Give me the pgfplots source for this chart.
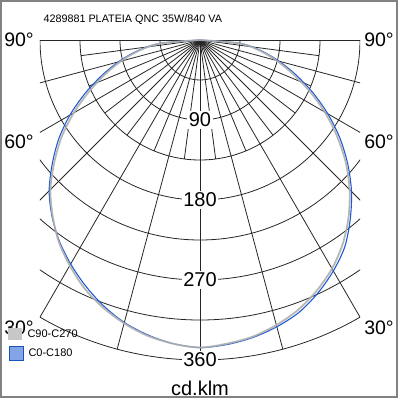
\documentclass[border=0pt]{standalone}
\usepackage{pgfplots}
\usepackage{pgfplotstable}
\pgfplotsset{compat=1.18}
\usepackage{fontspec}
\setmainfont{Liberation Sans}
\definecolor{cblue}{RGB}{30,90,210}
\definecolor{cgray}{RGB}{175,175,175}
\definecolor{frame}{RGB}{130,130,130}

% angle (deg from nadir, negative = left), intensity cd/klm
\pgfplotstableread{
a I
-90 0
-85 45
-80 70
-75 92
-70 114
-65 138
-60 164
-55 190
-50 214
-45 238
-40 258
-35 277
-30 293
-25 308
-20 320
-15 330
-10 338
-5 343
0 346
5 343
10 339
15 332
20 323
25 311
30 297
35 280
40 260
45 238
50 214
55 188
60 162
65 136
70 111
75 89
80 68
85 45
90 0
}\grayC
\pgfplotstableread{
a I
-90 0
-85 46
-80 72
-75 95
-70 118
-65 143
-60 169
-55 194
-50 217
-45 240
-40 259
-35 276
-30 291
-25 305
-20 318
-15 329
-10 337
-5 343
0 346
5 344
10 340
15 334
20 326
25 314
30 300
35 284
40 263
45 241
50 217
55 192
60 166
65 140
70 115
75 92
80 70
85 46
90 0
}\blueC

\begin{document}
\begin{tikzpicture}
% canvas: pole at (0,0); image pixel (X,Y) -> (X-200, 40-Y) in bp
\path[use as bounding box] (-200bp,40bp) rectangle (200bp,-360bp);
\draw[frame, line width=1.6bp] (-199bp,39bp) rectangle (197bp,-357bp);
% grid
\begin{scope}
\clip (-160bp,1.5bp) rectangle (160bp,-330bp);
\foreach \rad in {40,80,...,320} {
  \draw[black!85, line width=0.8bp] (-\rad bp,0) arc[start angle=180, end angle=360, radius=\rad bp];
}
\foreach \ang in {-90,-75,...,90} {
  \draw[black!85, line width=0.8bp] (0,0) -- ({-90+\ang}:320bp);
}
\foreach \ang in {-82.5,-67.5,-52.5,-37.5,-22.5,-7.5,7.5,22.5,37.5,52.5,67.5,82.5} {
  \draw[black!85, line width=0.8bp] (0,0) -- ({-90+\ang}:120bp);
}
\end{scope}

\begin{axis}[
  at={(0,0)}, anchor=origin,
  x=0.888889bp, y=0.888889bp,
  xmin=-225, xmax=225, ymin=-405, ymax=45,
  axis lines=none, clip=false,
  scale only axis,
]
\addplot[cblue, line width=1.1bp, smooth, no markers] table[x expr={\thisrow{I}*sin(\thisrow{a})}, y expr={-\thisrow{I}*cos(\thisrow{a})}] {\blueC};
\addplot[cgray, line width=1.8bp, smooth, no markers, opacity=0.9] table[x expr={\thisrow{I}*sin(\thisrow{a})}, y expr={-\thisrow{I}*cos(\thisrow{a})}] {\grayC};
\end{axis}

% value labels
\foreach \v/\yy in {90/-80,180/-160,270/-240,360/-320} {
  \node[fill=white, inner sep=1.5bp, font=\fontsize{20bp}{22bp}\selectfont] at (0bp,\yy bp) {\v};
}
% angle labels
\foreach \lab/\yy in {90°/0,60°/-102,30°/-288} {
  \node[font=\fontsize{19.5bp}{22bp}\selectfont] at (-181bp,\yy bp) {\lab};
  \node[font=\fontsize{19.5bp}{22bp}\selectfont] at (179bp,\yy bp) {\lab};
}
% title
\node[anchor=west, font=\fontsize{10.8bp}{12bp}\selectfont] at (-160bp,20bp) {4289881 PLATEIA QNC 35W/840 VA};
% unit
\node[font=\fontsize{20bp}{22bp}\selectfont] at (0bp,-348bp) {cd.klm};
% legend
\fill[cgray!70] (-191.7bp,-288bp) rectangle (-178.3bp,-300bp);
\node[anchor=west, font=\fontsize{11bp}{12bp}\selectfont] at (-176bp,-294bp) {C90-C270};
\draw[cblue!90!black, fill=cblue!55!white, line width=0.8bp] (-190.7bp,-306bp) rectangle (-176.7bp,-320bp);
\node[anchor=west, font=\fontsize{11bp}{12bp}\selectfont] at (-175bp,-313bp) {C0-C180};
\end{tikzpicture}
\end{document}
